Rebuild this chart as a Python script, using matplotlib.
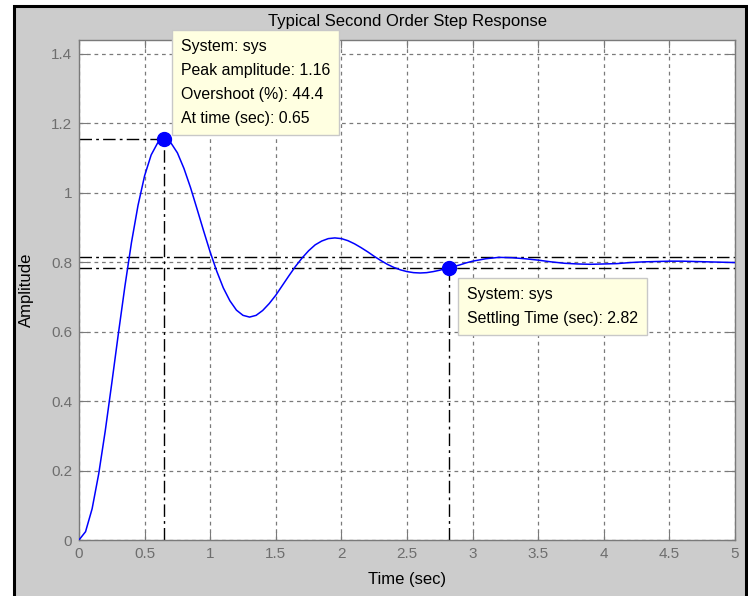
import matplotlib.pyplot as plt
from matplotlib.patches import Rectangle

# step response (t in sec, amplitude)
t = [0.00, 0.05, 0.10, 0.15, 0.20, 0.25, 0.30, 0.35, 0.40, 0.45,
     0.50, 0.55, 0.60, 0.65, 0.70, 0.75, 0.80, 0.85, 0.90, 0.95,
     1.00, 1.05, 1.10, 1.15, 1.20, 1.25, 1.30, 1.35, 1.40, 1.45,
     1.50, 1.55, 1.60, 1.65, 1.70, 1.75, 1.80, 1.85, 1.90, 1.95,
     2.00, 2.05, 2.10, 2.15, 2.20, 2.25, 2.30, 2.35, 2.40, 2.45,
     2.50, 2.55, 2.60, 2.65, 2.70, 2.75, 2.80, 2.85, 2.90, 2.95,
     3.00, 3.10, 3.20, 3.30, 3.40, 3.50, 3.60, 3.70, 3.80, 3.90,
     4.00, 4.10, 4.20, 4.30, 4.40, 4.50, 4.60, 4.70, 4.80, 4.90, 5.00]
amp = [0.000, 0.024, 0.090, 0.190, 0.314, 0.452, 0.594, 0.731, 0.857, 0.964,
       1.049, 1.109, 1.144, 1.155, 1.144, 1.115, 1.070, 1.015, 0.953, 0.890,
       0.829, 0.774, 0.726, 0.689, 0.662, 0.647, 0.642, 0.647, 0.661, 0.681,
       0.705, 0.733, 0.761, 0.788, 0.812, 0.833, 0.850, 0.861, 0.868, 0.870,
       0.868, 0.862, 0.853, 0.842, 0.830, 0.817, 0.805, 0.794, 0.785, 0.778,
       0.773, 0.770, 0.769, 0.770, 0.773, 0.777, 0.782, 0.787, 0.792, 0.798,
       0.803, 0.810, 0.814, 0.813, 0.810, 0.806, 0.801, 0.797, 0.795, 0.794,
       0.795, 0.796, 0.799, 0.801, 0.802, 0.803, 0.803, 0.802, 0.801, 0.800, 0.799]

peak_t, peak_amp = 0.65, 1.155
settle_t, settle_amp = 2.82, 0.784
band = [0.816, 0.784]

tip_peak = "System: sys\nPeak amplitude: 1.16\nOvershoot (%): 44.4\nAt time (sec): 0.65"
tip_settle = "System: sys\nSettling Time (sec): 2.82"

xticks = [0, 0.5, 1, 1.5, 2, 2.5, 3, 3.5, 4, 4.5, 5]
xticklabels = ["0", "0.5", "1", "1.5", "2", "2.5", "3", "3.5", "4", "4.5", "5"]
yticks = [0, 0.2, 0.4, 0.6, 0.8, 1, 1.2, 1.4]
yticklabels = ["0", "0.2", "0.4", "0.6", "0.8", "1", "1.2", "1.4"]

plt.rcParams['font.family'] = ['Liberation Sans', 'DejaVu Sans']

fig = plt.figure(figsize=(7.48, 5.96), dpi=100)
fig.patch.set_facecolor('white')
fig.patches.append(Rectangle((14 / 748, -0.02), 732 / 748, 0.02 + 590 / 596, transform=fig.transFigure,
                             facecolor='#cccccc', edgecolor='black', linewidth=2.2, zorder=-10))

ax = fig.add_axes([79 / 748, 56 / 596, 656 / 748, 500 / 596])
ax.set_facecolor('white')
gray = '#7a7a7a'
dashdot = (0, (9, 3, 2, 3))

ax.plot(t, amp, color='#0000ff', lw=1.1, zorder=3)

for b in band:
    ax.axhline(b, color='black', lw=1.0, linestyle=dashdot, zorder=2)
ax.plot([0, peak_t], [peak_amp, peak_amp], color='black', lw=1.0, linestyle=dashdot, zorder=2)
ax.plot([peak_t, peak_t], [0, peak_amp], color='black', lw=1.0, linestyle=dashdot, zorder=2)
ax.plot([settle_t, settle_t], [0, settle_amp], color='black', lw=1.0, linestyle=dashdot, zorder=2)

ax.plot([peak_t], [peak_amp], 'o', color='#0000ff', markersize=10, zorder=4)
ax.plot([settle_t], [settle_amp], 'o', color='#0000ff', markersize=10, zorder=4)

ax.set_xlim(0, 5)
ax.set_ylim(0, 1.44)
ax.set_xticks(xticks)
ax.set_xticklabels(xticklabels)
ax.set_yticks(yticks)
ax.set_yticklabels(yticklabels)
ax.grid(True, color=gray, linestyle=(0, (3, 3)), lw=0.9)
ax.tick_params(direction='in', length=6, color=gray, labelcolor='#6e6e6e',
               labelsize=11, top=True, right=True, pad=5)
for s in ax.spines.values():
    s.set_color(gray)
    s.set_linewidth(1.0)

ax.set_title("Typical Second Order Step Response", fontsize=12, color='black', pad=10)
ax.set_xlabel("Time (sec)", fontsize=12, color='black', labelpad=8)
ax.set_ylabel("Amplitude", fontsize=12, color='black', labelpad=12)

box = dict(boxstyle='square,pad=0.55', facecolor='#ffffe1', edgecolor='#c8c8c8', linewidth=1)
ax.text(0.777, 1.443, tip_peak, fontsize=11.4, color='black', va='top', ha='left',
        linespacing=1.75, bbox=box, zorder=6, clip_on=False)
ax.text(2.957, 0.729, tip_settle, fontsize=11.4, color='black', va='top', ha='left',
        linespacing=1.75, bbox=box, zorder=6, clip_on=False)

fig.savefig('out.png', dpi=100)
